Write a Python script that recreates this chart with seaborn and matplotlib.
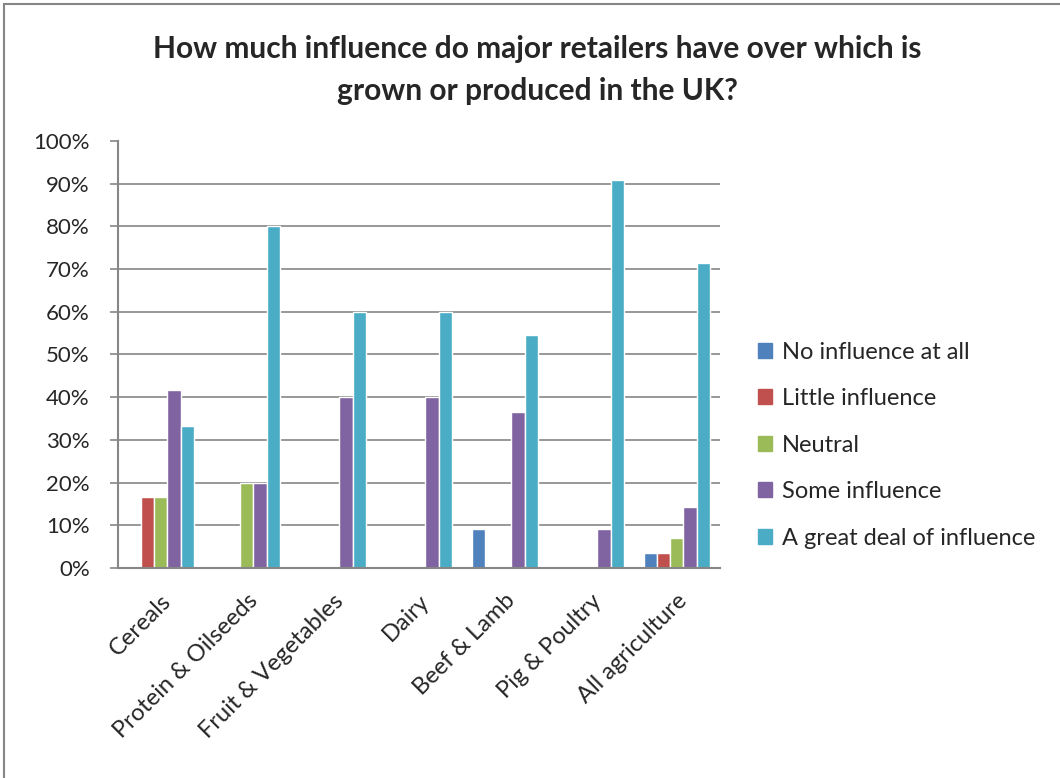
import matplotlib
matplotlib.use("Agg")
import matplotlib.pyplot as plt
import matplotlib.patches as mpatches
import seaborn as sns
import pandas as pd
import numpy as np

categories = ['Cereals', 'Protein & Oilseeds', 'Fruit & Vegetables', 'Dairy',
              'Beef & Lamb', 'Pig & Poultry', 'All agriculture']
series = ['No influence at all', 'Little influence', 'Neutral',
          'Some influence', 'A great deal of influence']
no_influence = [0, 0, 0, 0, 9.1, 0, 3.6]
little_influence = [16.7, 0, 0, 0, 0, 0, 3.6]
neutral = [16.7, 20, 0, 0, 0, 0, 7.1]
some_influence = [41.7, 20, 40, 40, 36.4, 9.1, 14.3]
great_deal = [33.3, 80, 60, 60, 54.5, 90.9, 71.4]
yticks = list(range(0, 101, 10))
colors = ['#4F81BD', '#C0504D', '#9BBB59', '#8064A2', '#4BACC6']

rows = []
for name, vals in zip(series, [no_influence, little_influence, neutral, some_influence, great_deal]):
    for cat, v in zip(categories, vals):
        rows.append({'category': cat, 'response': name, 'value': v})
df = pd.DataFrame(rows)

sns.set_style("white")
plt.rcParams['font.family'] = ['Lato', 'DejaVu Sans']

fig = plt.figure(figsize=(10.6, 7.78), dpi=100)
ax = fig.add_axes([0.111, 0.270, 0.568, 0.549])

sns.barplot(data=df, x='category', y='value', hue='response', order=categories,
            hue_order=series, palette=colors, width=0.77, saturation=1,
            errorbar=None, ax=ax)

grid_color = '#868686'
ax.set_ylim(0, 100)
ax.set_xlim(-0.5, len(categories) - 0.5)
ax.set_yticks(yticks)
ax.set_yticklabels([f'{t}%' for t in yticks], fontsize=16)
ax.yaxis.grid(True, color=grid_color, linewidth=1.2)
ax.set_axisbelow(True)
ax.set_xlabel('')
ax.set_ylabel('')
# no gridline or tick mark at 100%
ax.get_ygridlines()[-1].set_visible(False)
ax.yaxis.get_major_ticks()[-1].tick1line.set_visible(False)

ax.set_xticks(range(len(categories)))
ax.set_xticklabels(categories, rotation=45, ha='right', rotation_mode='anchor', fontsize=17)
ax.tick_params(axis='x', which='major', length=0, pad=16)
ax.set_xticks(np.arange(-0.5, len(categories)), minor=True)
ax.tick_params(axis='x', which='minor', length=7, color=grid_color, width=1.2, direction='out')
ax.tick_params(axis='y', length=6, color=grid_color, width=1.2, direction='out', left=True, pad=14)

for s in ['top', 'right']:
    ax.spines[s].set_visible(False)
for s in ['left', 'bottom']:
    ax.spines[s].set_color(grid_color)
    ax.spines[s].set_linewidth(1.5)

handles = [mpatches.Patch(color=c, label=l) for c, l in zip(colors, series)]
ax.legend(handles=handles, loc='center left', bbox_to_anchor=(0.704, 0.428),
          bbox_transform=fig.transFigure, frameon=False, fontsize=17,
          handlelength=0.6, handleheight=0.6, handletextpad=0.4, labelspacing=1.08,
          borderpad=0)

fig.text(0.507, 0.91, 'How much influence do major retailers have over which is\ngrown or produced in the UK?',
         ha='center', va='center', fontsize=21.5, fontweight='bold', linespacing=1.6)

fig.patches.append(mpatches.Rectangle((0.004, -0.1), 1.2, 1.095, transform=fig.transFigure,
                                      fill=False, edgecolor=grid_color, linewidth=1.5))

fig.savefig('out.png', dpi=100)
